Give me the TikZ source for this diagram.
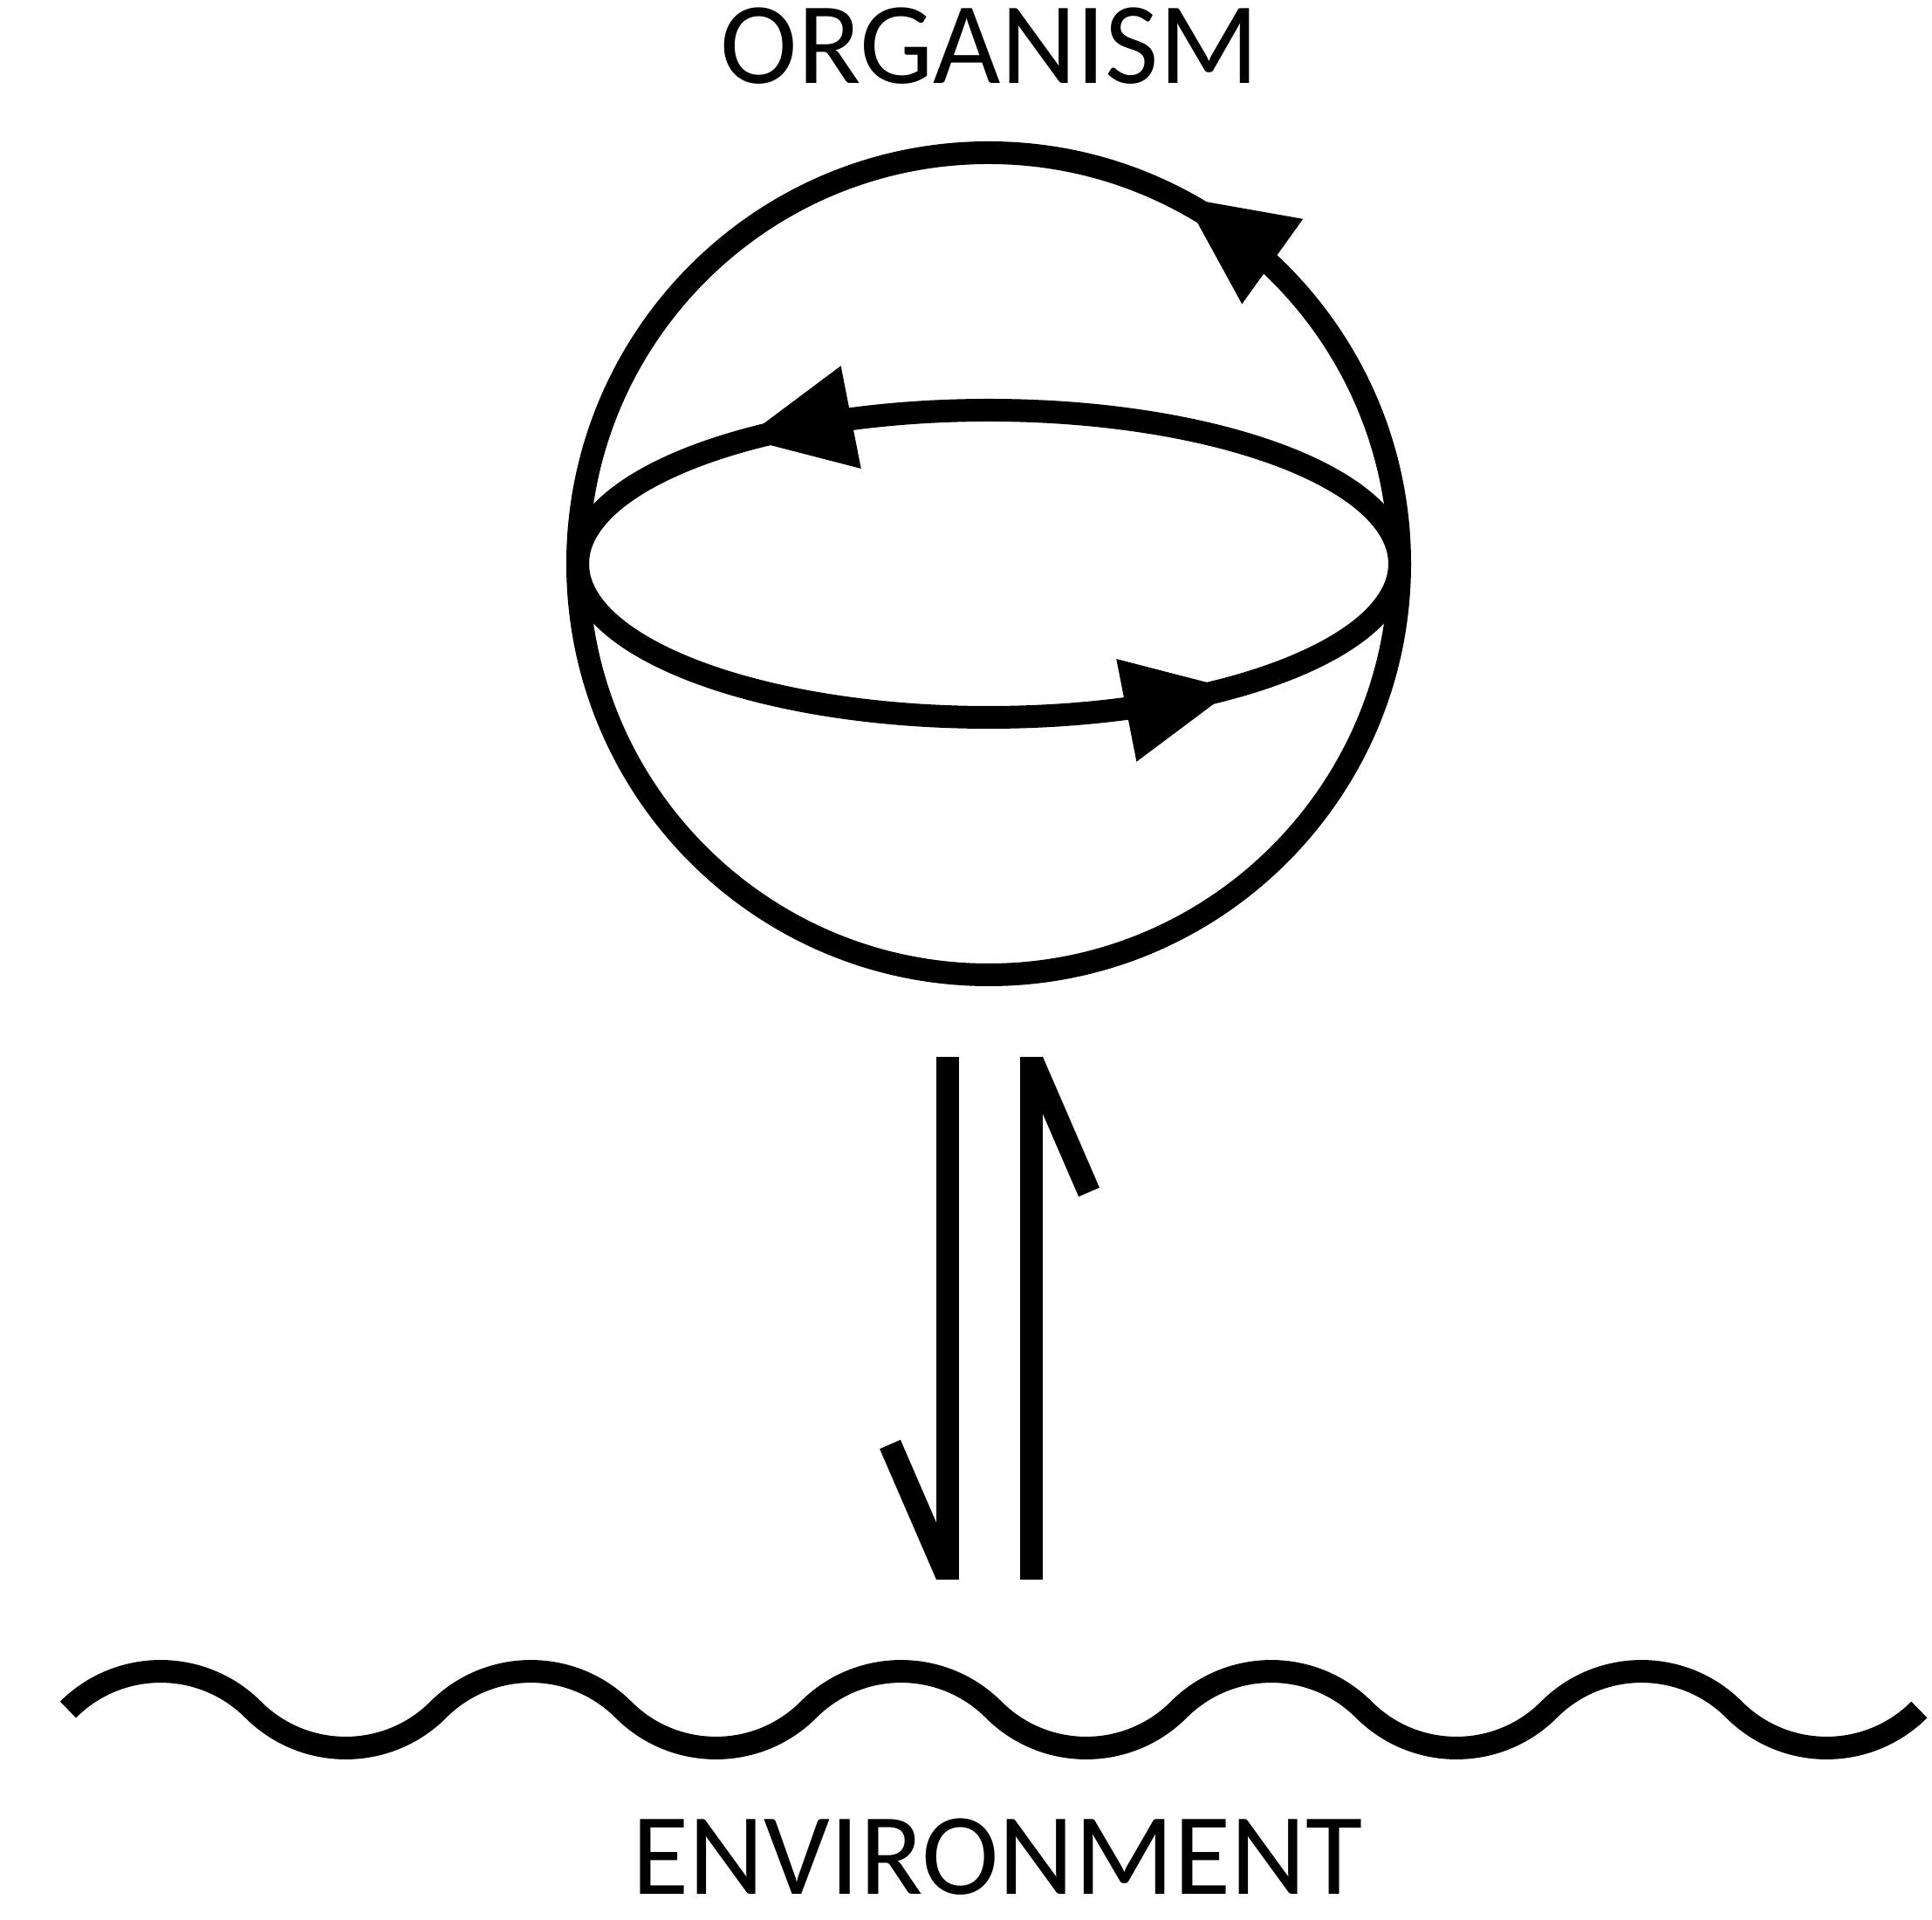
\documentclass[tikz,border=0pt]{standalone}
\usepackage{fontspec}
\setmainfont{Carlito}
\usetikzlibrary{decorations.markings}
\tikzset{
  org line/.style={draw=black, line width=0.26cm},
  org tip/.style={postaction={decorate, decoration={markings,
      mark=at position #1 with {\fill[black] (0.625,0) -- (-0.625,0.6) -- (-0.625,-0.6) -- cycle;}}}},
  org label/.style={font=\fontsize{38}{40}\selectfont, inner sep=0pt, anchor=base}
}

\begin{document}
\begin{tikzpicture}
\useasboundingbox (0,0) rectangle (22.14,21.99);

% ====== ORGANISM ======
\node[org label] (organism) at (11.34,21.03) {ORGANISM};
\coordinate (cell) at (11.33,15.53);
\draw[org line, org tip=0.151] (cell) circle[radius=4.71];
\draw[org line, org tip=0.353, org tip=0.853] (cell) ellipse[x radius=4.71, y radius=1.76];

% ====== exchange arrows ======
% -- down: organism to environment --
\coordinate (down top) at (10.86,9.88);
\coordinate (down bot) at (10.86,3.89);
\coordinate (down barb) at (10.20,5.44);
\draw[org line] (down top) -- (down bot);
\draw[org line] ([xshift=-0.01cm,yshift=0.05cm]down bot) -- (down barb);

% -- up: environment to organism --
\coordinate (up bot) at (11.82,3.89);
\coordinate (up top) at (11.82,9.88);
\coordinate (up barb) at (12.48,8.33);
\draw[org line] (up bot) -- (up top);
\draw[org line] ([xshift=0.01cm,yshift=-0.05cm]up top) -- (up barb);

% ====== ENVIRONMENT ======
\draw[org line] (0.78,2.40)
  \foreach \k in {1,...,5} {
    arc[start angle=135, end angle=45, radius=1.5]
    arc[start angle=225, end angle=315, radius=1.5]
  };
\node[org label] (environment) at (11.43,0.29) {ENVIRONMENT};

\end{tikzpicture}
\end{document}
